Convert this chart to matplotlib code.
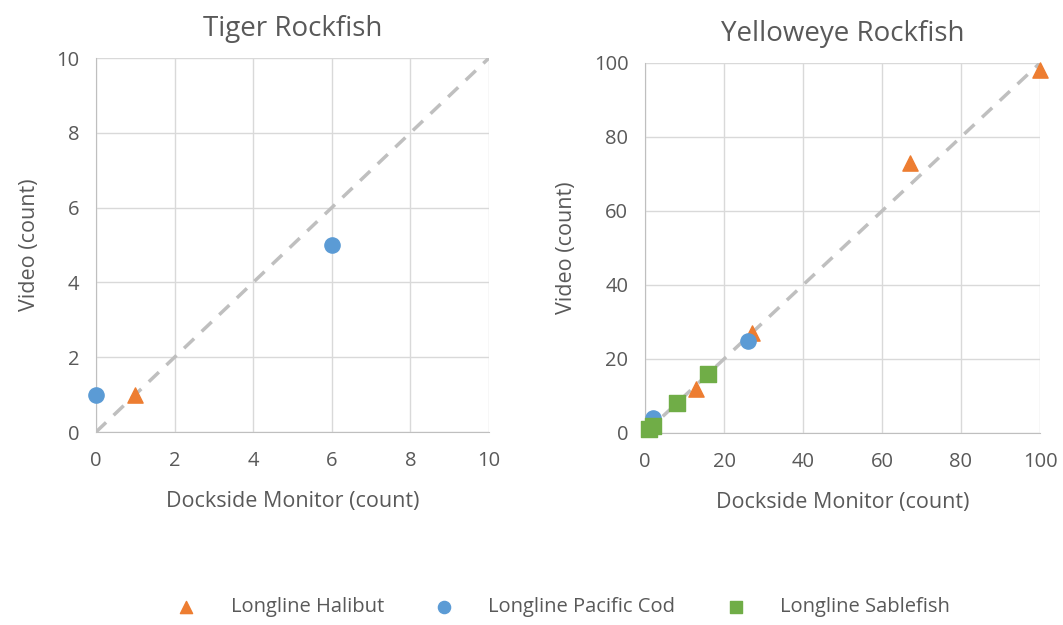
import matplotlib.pyplot as plt
import numpy as np

plt.rcParams['font.family'] = ['Open Sans', 'DejaVu Sans']

# DATA - Tiger Rockfish
tiger_halibut_x = [1]
tiger_halibut_y = [1]
tiger_cod_x = [0, 6]
tiger_cod_y = [1, 5]

# DATA - Yelloweye Rockfish
ye_halibut_x = [100, 67, 27, 13]
ye_halibut_y = [98, 73, 27, 12]
ye_cod_x = [26, 2]
ye_cod_y = [25, 4]
ye_sable_x = [1, 2, 8, 16]
ye_sable_y = [1, 2, 8, 16]

c_hal = '#ed7d31'
c_cod = '#5b9bd5'
c_sab = '#70ad47'
txt = '#595959'
grid = '#d9d9d9'

fig = plt.figure(figsize=(10.63, 6.25), dpi=100)
W, H = 1063, 625
ax1 = fig.add_axes([96 / W, 1 - 432 / H, (489 - 96) / W, (432 - 58) / H])
ax2 = fig.add_axes([645 / W, 1 - 433 / H, (1040 - 645) / W, (433 - 63) / H])


def style(ax, lim, step, title):
    ax.set_xlim(0, lim)
    ax.set_ylim(0, lim)
    ticks = np.arange(0, lim + step / 2, step)
    ax.set_xticks(ticks)
    ax.set_yticks(ticks)
    ax.grid(True, color=grid, linewidth=1)
    ax.set_axisbelow(True)
    for s in ['top', 'right']:
        ax.spines[s].set_visible(False)
    for s in ['left', 'bottom']:
        ax.spines[s].set_color('#bfbfbf')
    ax.tick_params(axis='x', length=0, colors=txt, labelsize=14.5, pad=14)
    ax.tick_params(axis='y', length=0, colors=txt, labelsize=14.5, pad=12)
    ax.set_xlabel('Dockside Monitor (count)', color=txt, fontsize=15.5, labelpad=14)
    ax.set_ylabel('Video (count)', color=txt, fontsize=15.5, labelpad=12)
    ax.set_title(title, color=txt, fontsize=20, pad=16)
    ax.plot([0, lim], [0, lim], color='#bfbfbf', linestyle=(0, (4, 3)), linewidth=2.5, zorder=1)


style(ax1, 10, 2, 'Tiger Rockfish')
style(ax2, 100, 20, 'Yelloweye Rockfish')

ax1.scatter(tiger_halibut_x, tiger_halibut_y, marker='^', s=120, color=c_hal, zorder=3, clip_on=False)
ax1.scatter(tiger_cod_x, tiger_cod_y, marker='o', s=120, color=c_cod, zorder=3, clip_on=False)

ax2.scatter(ye_halibut_x, ye_halibut_y, marker='^', s=120, color=c_hal, zorder=3, clip_on=False,
            label='Longline Halibut')
ax2.scatter(ye_cod_x, ye_cod_y, marker='o', s=120, color=c_cod, zorder=3, clip_on=False,
            label='Longline Pacific Cod')
ax2.scatter(ye_sable_x, ye_sable_y, marker='s', s=120, color=c_sab, zorder=4, clip_on=False,
            label='Longline Sablefish')

handles, labels = ax2.get_legend_handles_labels()
leg = fig.legend(handles, labels, loc='center', bbox_to_anchor=(0.525, 1 - 607 / H), ncol=3,
                 frameon=False, fontsize=14.5, handletextpad=1.2, columnspacing=2.0, markerscale=0.8)
for t in leg.get_texts():
    t.set_color(txt)

fig.savefig('out.png', dpi=100)
